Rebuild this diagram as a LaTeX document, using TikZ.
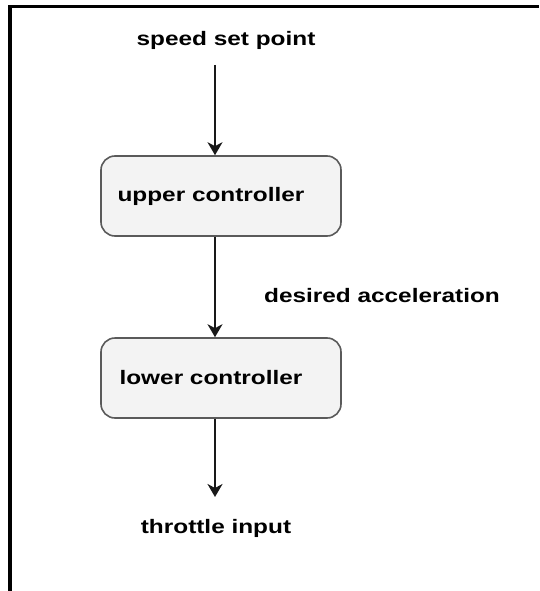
\documentclass[tikz,border=0pt]{standalone}
\usepackage{fontspec}
\setmainfont{Liberation Sans}[FakeStretch=1.25]
\usetikzlibrary{arrows.meta,positioning}
\definecolor{boxfill}{HTML}{F3F3F3}
\definecolor{boxline}{HTML}{5A5A5A}
\tikzset{
    ctrl/.style =   {rectangle,
                    rounded corners=14pt,
                    fill=boxfill,
                    draw=boxline,
                    text=black,
                    line width=1.6pt,
                    minimum width=240pt,
                    minimum height=80pt},
    sig/.style =    {text=black,
                    inner sep=0pt},
    flow/.style =   {draw=black!90,
                    line width=2pt,
                    -{Stealth[length=13pt,width=15pt,inset=4pt]}},
    frame/.style =  {draw=black,
                    line width=3.5pt},
    every node/.style = {font=\fontsize{19.5}{22}\selectfont\bfseries},
    x=1pt, y=1pt}

\begin{document}
\begin{tikzpicture}
        \useasboundingbox (0,0) rectangle (539,-591);
        \draw[frame] (10,-591) -- (10,-6.5) -- (539,-6.5);
                \node[ctrl]   (up)    at (221,-196)                           {upper controller\hspace*{20pt}};
                \node[ctrl]   (low)   [below of=up, node distance=182pt]      {lower controller\hspace*{20pt}};
                \node[sig]    (speed) [above of=up, node distance=156pt, xshift=5pt]  {speed set point};
                \node[sig]    (accel) at (382,-296)                           {desired acceleration};
                \node[sig]    (thr)   [below of=low, node distance=150pt, xshift=-5pt] {throttle input};
                \coordinate   (in)    at (215,-65);
                \coordinate   (out)   at (215,-497);
        \draw[flow] (in) -- (in |- up.north);
        \draw[flow] (in |- up.south) -- (in |- low.north);
        \draw[flow] (out |- low.south) -- (out);
\end{tikzpicture}
\end{document}
